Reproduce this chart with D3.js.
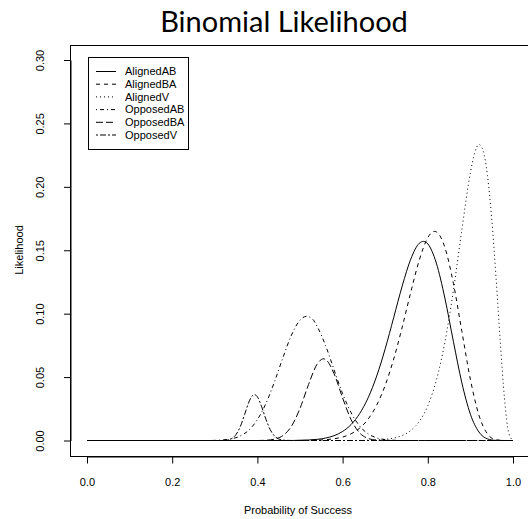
<!DOCTYPE html>
<html>
<head>
<meta charset="utf-8">
<script src="https://cdn.jsdelivr.net/npm/d3@7"></script>
<style>
  body { margin: 0; background: #fff; }
  svg { display: block; }
  text { font-family: "Liberation Sans", Arial, sans-serif; fill: #000; }
  .title { font-family: Lato, "Open Sans", sans-serif; font-size: 29px; }
  .axis text { font-size: 11px; }
  .axis path, .axis line { stroke: #000; }
</style>
</head>
<body>
<div id="chart"></div>
<script>
// likelihood curves as [p, likelihood]
var alignedAB = [[0,0],[0.48,0],[0.50,0.0002],[0.52,0.0004],[0.54,0.0009],[0.56,0.0019],[0.58,0.0038],
  [0.60,0.0071],[0.62,0.0126],[0.64,0.0212],[0.66,0.0337],[0.68,0.0508],[0.70,0.0723],[0.72,0.0970],
  [0.74,0.1219],[0.76,0.1430],[0.78,0.1555],[0.79,0.1570],[0.80,0.1550],[0.82,0.1399],[0.84,0.1124],
  [0.86,0.0782],[0.88,0.0454],[0.90,0.0207],[0.92,0.0067],[0.94,0.0013],[0.96,0.0001],[0.98,0],[1,0]];
var alignedBA = [[0,0],[0.50,0],[0.52,0.0001],[0.54,0.0003],[0.56,0.0006],[0.58,0.0014],[0.60,0.0027],
  [0.62,0.0053],[0.64,0.0097],[0.66,0.0169],[0.68,0.0279],[0.70,0.0435],[0.72,0.0643],[0.74,0.0895],
  [0.76,0.1169],[0.78,0.1422],[0.80,0.1600],[0.815,0.1649],[0.82,0.1645],[0.84,0.1523],[0.86,0.1240],
  [0.88,0.0860],[0.90,0.0481],[0.92,0.0200],[0.94,0.0052],[0.96,0.0006],[0.98,0],[1,0]];
var alignedV = [[0,0],[0.64,0],[0.66,0.0002],[0.68,0.0004],[0.70,0.0009],[0.72,0.0019],[0.74,0.0039],
  [0.76,0.0079],[0.78,0.0150],[0.80,0.0274],[0.82,0.0474],[0.84,0.0773],[0.86,0.1181],[0.88,0.1662],
  [0.90,0.2112],[0.91,0.2267],[0.92,0.2334],[0.93,0.2283],[0.94,0.2090],[0.95,0.1752],[0.96,0.1294],
  [0.97,0.0785],[0.98,0.0333],[0.99,0.0059],[1,0]];
var opposedAB = [[0,0],[0.28,0],[0.30,0.0001],[0.32,0.0005],[0.34,0.0014],[0.36,0.0036],[0.38,0.0082],
  [0.40,0.0165],[0.42,0.0292],[0.44,0.0462],[0.46,0.0654],[0.48,0.0831],[0.50,0.0949],[0.515,0.0979],
  [0.53,0.0955],[0.54,0.0901],[0.56,0.0749],[0.58,0.0557],[0.60,0.0370],[0.62,0.0219],[0.64,0.0114],
  [0.66,0.0052],[0.68,0.0021],[0.70,0.0007],[0.72,0.0002],[0.74,0],[1,0]];
var opposedBA = [[0,0],[0.40,0],[0.42,0.0002],[0.44,0.0011],[0.46,0.0039],[0.48,0.0113],[0.50,0.0253],
  [0.52,0.0441],[0.54,0.0601],[0.555,0.0644],[0.56,0.0639],[0.58,0.0527],[0.60,0.0336],[0.62,0.0164],
  [0.64,0.0060],[0.66,0.0016],[0.68,0.0003],[0.70,0],[1,0]];
var opposedV = [[0,0],[0.31,0],[0.32,0.0001],[0.33,0.0004],[0.34,0.0016],[0.35,0.0048],[0.36,0.0111],
  [0.37,0.0205],[0.38,0.0303],[0.39,0.0359],[0.393,0.0362],[0.40,0.0344],[0.41,0.0266],[0.42,0.0168],
  [0.43,0.0086],[0.44,0.0036],[0.45,0.0012],[0.46,0.0003],[0.47,0.0001],[0.49,0],[1,0]];

var seriesNames = ["AlignedAB", "AlignedBA", "AlignedV", "OpposedAB", "OpposedBA", "OpposedV"];
var seriesData = [alignedAB, alignedBA, alignedV, opposedAB, opposedBA, opposedV];
// R line types 1..6 : solid, dashed, dotted, dotdash, longdash, twodash
var dashes = [null, "4,4", "1,3", "1,3,4,3", "7,3", "2,2,6,2"];

var xTicks = [0, 0.2, 0.4, 0.6, 0.8, 1.0];
var yTicks = [0, 0.05, 0.10, 0.15, 0.20, 0.25, 0.30];

var width = 528, height = 519;

var svg = d3.select("#chart").append("svg")
  .attr("width", width)
  .attr("height", height);

var x = d3.scaleLinear().domain([0, 1]).range([87, 513]);
var y = d3.scaleLinear().domain([0, 0.30]).range([440.5, 60]);

// plot box (R pads the range by 4%)
var bx0 = Math.round(x(-0.04)) + 0.5, bx1 = x(1.04),
    by0 = Math.round(y(0.312)) + 0.5, by1 = Math.round(y(-0.012)) + 0.5;

svg.append("rect")
  .attr("x", bx0).attr("y", by0)
  .attr("width", bx1 - bx0).attr("height", by1 - by0)
  .attr("fill", "none").attr("stroke", "#000");

// x axis
var xAxis = svg.append("g")
  .attr("class", "axis")
  .attr("transform", "translate(0," + by1 + ")")
  .call(d3.axisBottom(x).tickValues(xTicks).tickSize(7).tickSizeOuter(0)
    .tickPadding(15).tickFormat(d3.format(".1f")));

// y axis, labels turned like R does
var yAxis = svg.append("g")
  .attr("class", "axis")
  .attr("transform", "translate(" + bx0 + ",0)")
  .call(d3.axisLeft(y).tickValues(yTicks).tickSize(7).tickSizeOuter(0)
    .tickFormat(d3.format(".2f")));
yAxis.selectAll("text")
  .attr("x", 0).attr("dy", 0)
  .attr("text-anchor", "middle")
  .attr("transform", "translate(-26.5,0) rotate(-90)");
yAxis.selectAll(".tick line").attr("transform", "translate(0.5,0)");

// curves
var line = d3.line()
  .x(d => x(d[0]))
  .y(d => y(d[1]))
  .curve(d3.curveMonotoneX);

svg.selectAll(".curve")
  .data(seriesData)
  .enter().append("path")
  .attr("class", "curve")
  .attr("d", line)
  .attr("fill", "none")
  .attr("stroke", "#000")
  .attr("stroke-width", 1)
  .attr("stroke-dasharray", (d, i) => dashes[i]);

// title and axis labels
svg.append("text")
  .attr("class", "title")
  .attr("x", 284).attr("y", 32)
  .attr("text-anchor", "middle")
  .text("Binomial Likelihood");

svg.append("text")
  .attr("x", 298).attr("y", 514)
  .attr("text-anchor", "middle")
  .style("font-size", "11px")
  .text("Probability of Success");

svg.append("text")
  .attr("transform", "translate(23,250) rotate(-90)")
  .attr("text-anchor", "middle")
  .style("font-size", "11px")
  .text("Likelihood");

// legend
var legend = svg.append("g").attr("class", "legend");
legend.append("rect")
  .attr("x", 88.5).attr("y", 57.5)
  .attr("width", 100).attr("height", 92)
  .attr("fill", "#fff").attr("stroke", "#000");

var rows = legend.selectAll(".row")
  .data(seriesNames)
  .enter().append("g")
  .attr("class", "row")
  .attr("transform", (d, i) => "translate(0," + (71.5 + i * 12.7) + ")");

rows.append("line")
  .attr("x1", 96).attr("x2", 116)
  .attr("stroke", "#000")
  .attr("stroke-dasharray", (d, i) => dashes[i]);

rows.append("text")
  .attr("x", 125).attr("dy", "0.35em")
  .style("font-size", "11px")
  .text(d => d);
</script>
</body>
</html>
